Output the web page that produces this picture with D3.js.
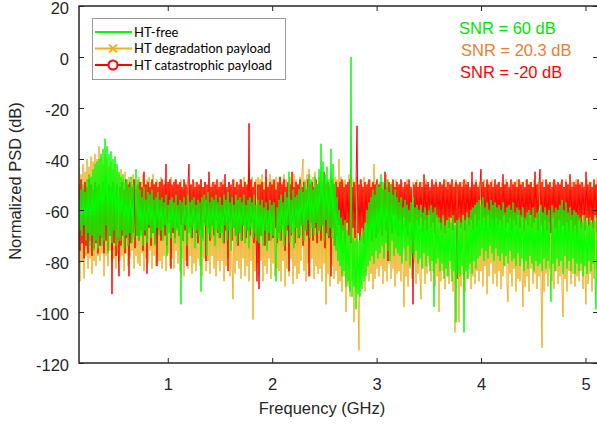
<!DOCTYPE html>
<html><head><meta charset="utf-8">
<script src="https://cdn.jsdelivr.net/npm/d3@7"></script>
<style>
html,body{margin:0;padding:0;background:#fff;}
svg{display:block;}
</style>
</head><body>
<svg id="chart" width="597" height="425"></svg>
<script>
// Frequency span of the sampled spectra (GHz) and tick labels
const freqSpan = [0.15, 5.12];
const xTicks = [1, 2, 3, 4, 5];
const yTicks = [20, 0, -20, -40, -60, -80, -100, -120];
const seriesNames = ["HT-free", "HT degradation payload", "HT catastrophic payload"];
const snrLabels = ["SNR = 60 dB", "SNR = 20.3 dB", "SNR = -20 dB"];

// HT-free (green) normalized PSD, dB
const htFree = [
-54,-68,-52,-70,-50,-66,-53,-72,-48,-69,-46,-74,-47,-70,-44,-76,-42,-72,-41,-75,
-40,-70,-38,-74,-36,-72,-32,-66,-35,-77,-38,-70,-37,-73,-40,-68,-39,-74,-42,-71,
-45,-72,-47,-68,-46,-75,-49,-70,-48,-74,-51,-69,-47,-73,-50,-71,-66,-44,-70,-48,
-72,-52,-70,-55,-74,-51,-68,-56,-73,-53,-66,-54,-71,-52,-69,-56,-74,-55,-67,-53,
-70,-56,-68,-55,-72,-57,-66,-54,-78,-58,-69,-56,-71,-55,-67,-57,-73,-54,-68,-58,
-70,-56,-97,-57,-72,-55,-66,-58,-74,-54,-69,-57,-71,-56,-67,-55,-75,-58,-68,-56,
-70,-57,-92,-55,-72,-54,-66,-56,-78,-53,-69,-57,-71,-55,-67,-56,-74,-54,-68,-57,
-71,-55,-69,-58,-73,-54,-66,-56,-72,-53,-68,-57,-76,-55,-67,-58,-70,-54,-73,-56,
-69,-55,-72,-57,-66,-54,-73,-58,-68,-56,-75,-55,-67,-57,-71,-54,-69,-58,-72,-56,
-73,-58,-70,-56,-74,-59,-68,-57,-76,-60,-69,-56,-72,-58,-70,-57,-75,-88,-59,-71,
-56,-72,-54,-68,-57,-74,-53,-70,-55,-66,-45,-73,-56,-69,-52,-75,-55,-67,-54,-71,
-52,-70,-50,-66,-53,-72,-49,-68,-51,-64,-46,-71,-48,-67,-52,-70,-47,-65,-50,-69,
-44,-68,-34,-66,-41,-72,-46,-64,-43,-70,-48,-67,-36,-71,-42,-74,-50,-76,-55,-80,
-60,-82,-63,-86,-66,-84,-64,-90,-68,-88,-70,-92,0,-94,-71,-90,-72,-99,-70,-93,
-72,-94,-70,-91,-68,-88,-65,-86,-60,-82,-57,-80,-55,-78,-52,-81,-54,-76,-50,-79,
-51,-77,-46,-74,-49,-79,-52,-73,-48,-76,-53,-80,-50,-72,-54,-78,-52,-75,-55,-77,
-57,-78,-55,-81,-59,-75,-56,-80,-58,-74,-60,-82,-57,-77,-55,-79,-59,-76,-58,-81,
-60,-79,-58,-83,-61,-77,-59,-82,-62,-78,-60,-84,-58,-80,-61,-98,-59,-81,-62,-79,
-63,-84,-65,-81,-62,-87,-66,-83,-64,-86,-63,-80,-65,-88,-62,-84,-66,-104,-64,-85,
-63,-86,-65,-82,-62,-108,-64,-84,-61,-87,-63,-81,-60,-85,-59,-80,-58,-83,-57,-79,
-56,-78,-58,-75,-55,-80,-59,-76,-57,-79,-60,-74,-56,-77,-58,-80,-57,-75,-59,-78,
-58,-80,-60,-77,-57,-82,-61,-78,-59,-81,-58,-76,-60,-80,-57,-79,-61,-82,-59,-77,
-60,-82,-62,-79,-59,-84,-63,-80,-61,-83,-60,-78,-62,-81,-59,-84,-63,-80,-61,-82,
-60,-81,-58,-84,-61,-79,-59,-83,-62,-80,-60,-82,-96,-58,-81,-61,-84,-59,-79,-60,
-82,-58,-80,-56,-85,-60,-78,-57,-83,-61,-80,-59,-84,-62,-79,-60,-85,-61,-81,-62,
-84,-63,-81,-65,-86,-62,-82,-64,-85,-66,-80,-63,-84,-65,-81,-64,-86,-99,-63,-83
];

// HT degradation payload (orange) normalized PSD, dB
const htDegradation = [
-44,-88,-46,-80,-42,-87,-45,-78,-40,-83,-43,-79,-39,-85,-41,-80,-38,-82,-40,-78,
-35,-80,-39,-77,-42,-86,-38,-78,-40,-82,-43,-76,-41,-80,-44,-79,-42,-83,-45,-77,
-46,-80,-44,-78,-48,-84,-45,-77,-49,-82,-47,-79,-50,-76,-46,-83,-48,-78,-50,-81,
-47,-82,-49,-77,-46,-84,-50,-79,-48,-81,-47,-76,-49,-83,-46,-78,-50,-82,-48,-80,
-49,-80,-47,-83,-51,-78,-48,-84,-50,-77,-49,-82,-47,-79,-51,-83,-48,-76,-50,-81,
-50,-84,-48,-79,-52,-86,-49,-80,-51,-83,-48,-78,-50,-85,-52,-81,-49,-84,-51,-79,
-50,-82,-48,-86,-51,-79,-49,-84,-52,-80,-48,-85,-50,-78,-51,-83,-49,-86,-52,-80,
-49,-84,-51,-80,-48,-88,-50,-82,-52,-79,-49,-86,-51,-81,-95,-48,-85,-50,-80,-52,
-83,-48,-87,-50,-79,-47,-86,-51,-82,-48,-88,-49,-80,-47,-103,-50,-84,-48,-81,-47,
-86,-48,-80,-46,-88,-49,-82,-47,-85,-50,-79,-46,-87,-48,-81,-49,-86,-47,-83,-50,
-84,-47,-88,-49,-80,-46,-90,-48,-83,-50,-86,-47,-79,-49,-89,-46,-82,-48,-87,-50,
-85,-47,-80,-45,-40,-84,-48,-88,-46,-81,-44,-86,-49,-79,-47,-87,-45,-82,-50,-85,
-47,-83,-45,-88,-49,-81,-46,-97,-48,-85,-50,-90,-46,-82,-49,-87,-47,-84,-48,-89,
-40,-88,-47,-92,-49,-86,-48,-100,-50,-90,-46,-94,-49,-88,-48,-104,-50,-92,-47,-95,
-115,-48,-90,-50,-86,-47,-92,-51,-84,-49,-88,-48,-85,-50,-91,-42,-87,-49,-83,-50,
-86,-49,-82,-51,-89,-50,-84,-46,-88,-48,-81,-52,-87,-49,-83,-50,-90,-48,-85,-51,
-84,-50,-88,-49,-82,-98,-51,-86,-48,-90,-50,-83,-52,-87,-49,-81,-51,-89,-48,-85,
-50,-87,-95,-49,-83,-51,-89,-48,-85,-50,-81,-52,-88,-49,-84,-51,-90,-48,-86,-50,
-100,-49,-88,-51,-84,-50,-91,-48,-86,-52,-89,-49,-83,-51,-92,-50,-108,-48,-87,-51,
-104,-50,-90,-49,-85,-51,-92,-48,-87,-50,-83,-52,-91,-49,-86,-51,-89,-48,-84,-50,
-88,-49,-84,-51,-90,-48,-82,-50,-93,-49,-86,-52,-81,-48,-89,-50,-85,-51,-90,-49,
-84,-51,-91,-49,-86,-50,-82,-48,-89,-96,-50,-85,-52,-90,-49,-83,-51,-92,-48,-87,
-50,-88,-49,-84,-98,-51,-90,-48,-86,-50,-92,-49,-83,-51,-89,-48,-85,-50,-91,-49,
-86,-50,-89,-114,-48,-92,-51,-85,-49,-90,-50,-83,-52,-88,-49,-91,-48,-84,-51,-89,
-50,-86,-49,-91,-102,-51,-87,-48,-92,-50,-84,-52,-89,-49,-85,-51,-90,-48,-86,-50,
-88,-49,-84,-51,-91,-50,-86,-97,-48,-89,-52,-85,-49,-92,-51,-87,-50,-83,-48,-90
];

// HT catastrophic payload (red) normalized PSD, dB
const htCatastrophic = [
-50,-76,-48,-73,-52,-79,-49,-74,-51,-77,-48,-72,-50,-78,-52,-75,-49,-73,-51,-77,
-50,-74,-53,-71,-49,-77,-52,-72,-54,-76,-50,-70,-51,-93,-49,-73,-53,-78,-50,-72,
-86,-51,-74,-49,-70,-52,-77,-48,-71,-50,-86,-49,-73,-51,-69,-48,-75,-52,-70,-50,
-72,-49,-68,-51,-76,-45,-70,-50,-85,-49,-67,-51,-74,-48,-69,-50,-73,-49,-82,-51,
-68,-49,-72,-48,-66,-50,-70,-42,-74,-49,-65,-48,-83,-50,-69,-49,-71,-48,-67,-50,
-70,-49,-66,-51,-72,-48,-68,-50,-82,-49,-42,-67,-50,-71,-48,-65,-51,-69,-49,-73,
-50,-68,-48,-71,-51,-65,-49,-80,-50,-67,-45,-72,-51,-66,-49,-70,-50,-64,-48,-69,
-51,-71,-49,-66,-50,-73,-46,-68,-51,-84,-49,-65,-50,-72,-48,-67,-51,-70,-49,-74,
-50,-69,-48,-72,-51,-66,-49,-71,-50,-68,-26,-70,-48,-65,-51,-73,-49,-67,-88,-50,
-91,-50,-70,-49,-66,-52,-74,-44,-68,-51,-72,-49,-65,-50,-71,-48,-67,-52,-73,-49,
-69,-47,-72,-50,-66,-48,-76,-51,-68,-49,-84,-50,-70,-45,-65,-51,-73,-49,-67,-50,
-71,-48,-66,-51,-74,-49,-68,-52,-70,-48,-86,-50,-65,-49,-72,-51,-67,-48,-73,-50,
-68,-49,-72,-51,-66,-45,-75,-50,-69,-49,-71,-51,-86,-48,-67,-50,-74,-49,-70,-51,
-66,-49,-72,-48,-68,-51,-74,-50,-65,-49,-70,-48,-73,-51,-67,-49,-71,-50,-27,-69,
-50,-72,-48,-67,-51,-73,-49,-65,-50,-70,-48,-68,-51,-72,-49,-66,-50,-71,-48,-69,
-50,-66,-49,-70,-52,-63,-45,-68,-51,-80,-49,-65,-50,-69,-48,-62,-51,-67,-49,-70,
-50,-64,-48,-69,-51,-63,-49,-67,-50,-70,-48,-65,-51,-62,-97,-50,-68,-49,-64,-51,
-66,-49,-63,-51,-69,-46,-64,-50,-68,-49,-62,-51,-67,-48,-65,-50,-69,-49,-63,-51,
-65,-49,-68,-50,-63,-48,-69,-51,-64,-49,-67,-50,-63,-48,-68,-51,-65,-49,-87,-50,
-64,-49,-67,-51,-62,-48,-68,-50,-63,-49,-66,-51,-64,-45,-68,-50,-62,-49,-67,-51,
-64,-50,-44,-66,-49,-63,-51,-68,-48,-62,-50,-67,-49,-64,-51,-68,-48,-63,-50,-66,
-49,-64,-51,-68,-46,-62,-50,-67,-49,-65,-51,-63,-48,-68,-50,-64,-49,-66,-51,-62,
-48,-67,-50,-63,-49,-68,-51,-64,-48,-66,-50,-62,-49,-67,-51,-65,-45,-63,-50,-68,
-50,-44,-66,-49,-70,-51,-64,-48,-68,-50,-65,-49,-69,-51,-63,-48,-67,-50,-70,-49,
-64,-50,-69,-48,-66,-51,-70,-49,-65,-50,-68,-46,-64,-51,-69,-49,-66,-50,-70,-48,
-64,-50,-67,-49,-62,-51,-68,-45,-63,-50,-66,-49,-64,-51,-67,-48,-62,-50,-68,-49
];

const colors = { free: "#00ff00", degr: "#EDB120", cat: "#ff0000" };
const snrColors = ["#00e600", "#ED7D31", "#ff0000"];

const svg = d3.select("#chart");
const plot = { left: 79, right: 598, top: 6, bottom: 363 };

const x = d3.scaleLinear().domain(freqSpan).range([plot.left, plot.right]);
const y = d3.scaleLinear().domain([-120, 20]).range([plot.bottom, plot.top]);

const freqOf = (arr) => arr.map((v, i) => ({
  f: freqSpan[0] + i * (freqSpan[1] - freqSpan[0]) / (arr.length - 1),
  v
}));

svg.append("defs").append("clipPath").attr("id", "clip")
  .append("rect").attr("x", plot.left).attr("y", plot.top)
  .attr("width", plot.right - plot.left).attr("height", plot.bottom - plot.top);

const line = d3.line().x(d => x(d.f)).y(d => y(d.v));
const g = svg.append("g").attr("clip-path", "url(#clip)");
[[htDegradation, colors.degr], [htCatastrophic, colors.cat], [htFree, colors.free]].forEach(([arr, c]) => {
  g.append("path").datum(freqOf(arr)).attr("d", line)
    .attr("fill", "none").attr("stroke", c).attr("stroke-width", 1)
    .attr("stroke-linejoin", "bevel");
});

const axisColor = "#262626";
const fontFam = "'Liberation Sans', Arial, sans-serif";
const fmt = d => String(d);

function styleAxis(sel, labels) {
  sel.select(".domain").remove();
  sel.selectAll(".tick line").attr("stroke", axisColor).attr("stroke-width", 1);
  sel.selectAll(".tick text").attr("fill", axisColor)
    .style("font-family", fontFam).style("font-size", "16.5px");
  if (!labels) sel.selectAll(".tick text").remove();
}

svg.append("g").attr("transform", `translate(0,${plot.bottom})`)
  .call(d3.axisBottom(x).tickValues(xTicks).tickSize(-5).tickPadding(15).tickFormat(fmt))
  .call(s => styleAxis(s, true));
svg.append("g").attr("transform", `translate(0,${plot.top})`)
  .call(d3.axisTop(x).tickValues(xTicks).tickSize(-5))
  .call(s => styleAxis(s, false));
svg.append("g").attr("transform", `translate(${plot.left},0)`)
  .call(d3.axisLeft(y).tickValues(yTicks).tickSize(-5).tickPadding(10).tickFormat(fmt))
  .call(s => { styleAxis(s, true); s.selectAll(".tick text").attr("dy", "0.46em"); });
svg.append("g").attr("transform", `translate(${plot.right},0)`)
  .call(d3.axisRight(y).tickValues(yTicks).tickSize(-5))
  .call(s => styleAxis(s, false));

svg.append("rect").attr("x", plot.left).attr("y", plot.top)
  .attr("width", plot.right - plot.left).attr("height", plot.bottom - plot.top)
  .attr("fill", "none").attr("stroke", axisColor).attr("stroke-width", 1.5);

// Axis titles
svg.append("text").attr("x", 322).attr("y", 414)
  .attr("text-anchor", "middle").attr("fill", axisColor)
  .style("font-family", fontFam).style("font-size", "16.5px").text("Frequency (GHz)");
svg.append("text").attr("transform", "translate(21,181) rotate(-90)")
  .attr("text-anchor", "middle").attr("fill", axisColor)
  .style("font-family", fontFam).style("font-size", "16.5px").text("Normalized PSD (dB)");

// Legend
const leg = svg.append("g");
leg.append("rect").attr("x", 92.5).attr("y", 18.5).attr("width", 193).attr("height", 61)
  .attr("fill", "#fff").attr("stroke", "#999").attr("stroke-width", 1);
const legColors = [colors.free, colors.degr, colors.cat];
seriesNames.forEach((name, i) => {
  const cy = 32 + i * 16.5;
  leg.append("line").attr("x1", 95).attr("x2", 132).attr("y1", cy).attr("y2", cy)
    .attr("stroke", legColors[i]).attr("stroke-width", 2);
  if (i === 1) {
    leg.append("path").attr("d", `M${113-4},${cy-4}L${113+4},${cy+4}M${113-4},${cy+4}L${113+4},${cy-4}`)
      .attr("stroke", legColors[i]).attr("stroke-width", 2);
  }
  if (i === 2) {
    leg.append("circle").attr("cx", 113).attr("cy", cy).attr("r", 4.5)
      .attr("fill", "#fff").attr("stroke", legColors[i]).attr("stroke-width", 2);
  }
  leg.append("text").attr("x", 134).attr("y", cy).attr("dy", "0.35em")
    .attr("fill", "#000").style("font-family", "Lato, 'Open Sans', sans-serif")
    .style("font-size", "13px").text(name);
});

// SNR annotations
const snrX = [459, 461, 460];
const snrY = [34, 55.5, 78];
snrLabels.forEach((t, i) => {
  svg.append("text").attr("x", snrX[i]).attr("y", snrY[i])
    .attr("fill", snrColors[i]).style("font-family", fontFam)
    .style("font-size", "16.5px").text(t);
});
</script>
</body></html>
